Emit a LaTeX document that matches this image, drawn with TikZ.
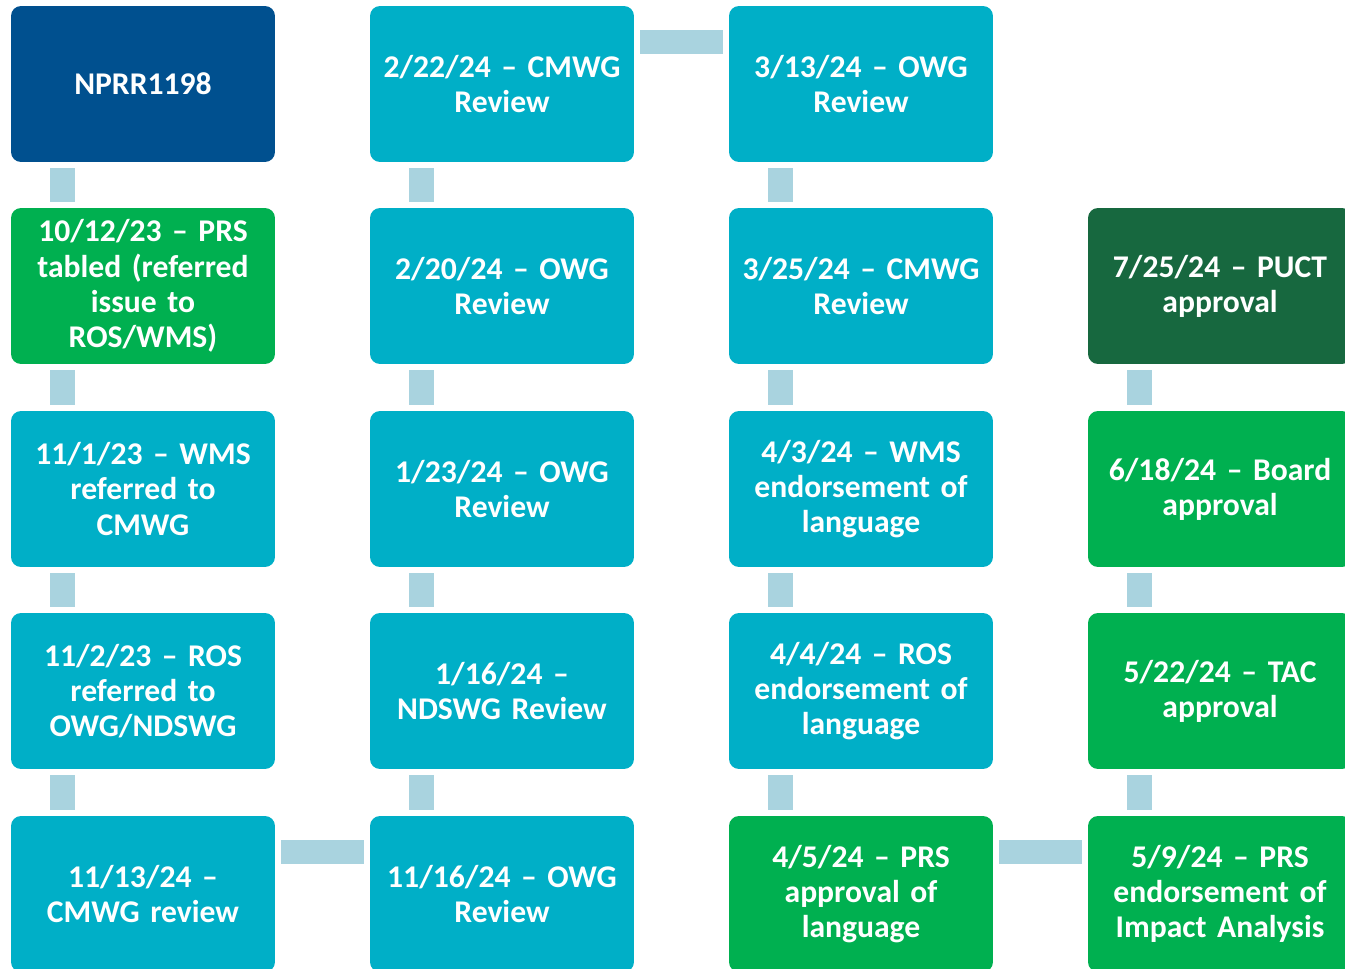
\documentclass[tikz,border=0pt]{standalone}
\usepackage{fontspec}
\setmainfont{Carlito}
\usepackage{tikz}
\usetikzlibrary{calc}
\definecolor{nprrBlue}{HTML}{00508F}
\definecolor{wgTeal}{HTML}{00AFC7}
\definecolor{okGreen}{HTML}{00B050}
\definecolor{puctGreen}{HTML}{17683F}
\definecolor{linkBlue}{HTML}{A9D3DF}
\tikzset{timelineFig/.style={x=0.02cm,y=-0.02cm,
                    font=\fontsize{18}{20}\selectfont\bfseries},
         tlBox/.style={rectangle,rounded corners=0.2cm,minimum width=5.28cm,
                    minimum height=3.12cm,text width=5.2cm,align=center,
                    inner sep=0pt,text=white},
         tlLink/.style={draw=linkBlue,line width=0.5cm,
                    shorten <=0.12cm,shorten >=0.12cm},
         tlLinkH/.style={tlLink,line width=0.48cm}}

\begin{document}
\begin{tikzpicture}[timelineFig]
    \useasboundingbox (0,0) rectangle (1345,969);
    \clip (0,0) rectangle (1345,969);
    %COLUMN 1
    \node [tlBox, fill=nprrBlue] (c1r1) at (143,84)  {NPRR1198};
    \node [tlBox, fill=okGreen]  (c1r2) at (143,286) {10/12/23 -- PRS\\tabled (referred\\issue to\\ROS/WMS)};
    \node [tlBox, fill=wgTeal]   (c1r3) at (143,489) {11/1/23 -- WMS\\referred to\\CMWG};
    \node [tlBox, fill=wgTeal]   (c1r4) at (143,691) {11/2/23 -- ROS\\referred to\\OWG/NDSWG};
    \node [tlBox, fill=wgTeal]   (c1r5) at (143,894) {11/13/24 --\\CMWG review};
    %COLUMN 2
    \node [tlBox, fill=wgTeal]   (c2r5) at (502,894) {11/16/24 -- OWG\\Review};
    \node [tlBox, fill=wgTeal]   (c2r4) at (502,691) {1/16/24 --\\NDSWG Review};
    \node [tlBox, fill=wgTeal]   (c2r3) at (502,489) {1/23/24 -- OWG\\Review};
    \node [tlBox, fill=wgTeal]   (c2r2) at (502,286) {2/20/24 -- OWG\\Review};
    \node [tlBox, fill=wgTeal]   (c2r1) at (502,84)  {2/22/24 -- CMWG\\Review};
    %COLUMN 3
    \node [tlBox, fill=wgTeal]   (c3r1) at (861,84)  {3/13/24 -- OWG\\Review};
    \node [tlBox, fill=wgTeal]   (c3r2) at (861,286) {3/25/24 -- CMWG\\Review};
    \node [tlBox, fill=wgTeal]   (c3r3) at (861,489) {4/3/24 -- WMS\\endorsement of\\language};
    \node [tlBox, fill=wgTeal]   (c3r4) at (861,691) {4/4/24 -- ROS\\endorsement of\\language};
    \node [tlBox, fill=okGreen]  (c3r5) at (861,894) {4/5/24 -- PRS\\approval of\\language};
    %COLUMN 4
    \node [tlBox, fill=okGreen]  (c4r5) at (1220,894) {5/9/24 -- PRS\\endorsement of\\Impact Analysis};
    \node [tlBox, fill=okGreen]  (c4r4) at (1220,691) {5/22/24 -- TAC\\approval};
    \node [tlBox, fill=okGreen]  (c4r3) at (1220,489) {6/18/24 -- Board\\approval};
    \node [tlBox, fill=puctGreen] (c4r2) at (1220,286) {7/25/24 -- PUCT\\approval};

    %LINKS
    \draw [tlLink] ([xshift=1.03cm]c1r1.south west) -- ([xshift=1.03cm]c1r2.north west);
    \draw [tlLink] ([xshift=1.03cm]c1r2.south west) -- ([xshift=1.03cm]c1r3.north west);
    \draw [tlLink] ([xshift=1.03cm]c1r3.south west) -- ([xshift=1.03cm]c1r4.north west);
    \draw [tlLink] ([xshift=1.03cm]c1r4.south west) -- ([xshift=1.03cm]c1r5.north west);
    \draw [tlLinkH] ([yshift=-0.72cm]c1r5.north east) -- ([yshift=-0.72cm]c2r5.north west);

    \draw [tlLink] ([xshift=1.03cm]c2r5.north west) -- ([xshift=1.03cm]c2r4.south west);
    \draw [tlLink] ([xshift=1.03cm]c2r4.north west) -- ([xshift=1.03cm]c2r3.south west);
    \draw [tlLink] ([xshift=1.03cm]c2r3.north west) -- ([xshift=1.03cm]c2r2.south west);
    \draw [tlLink] ([xshift=1.03cm]c2r2.north west) -- ([xshift=1.03cm]c2r1.south west);
    \draw [tlLinkH] ([yshift=-0.72cm]c2r1.north east) -- ([yshift=-0.72cm]c3r1.north west);

    \draw [tlLink] ([xshift=1.03cm]c3r1.south west) -- ([xshift=1.03cm]c3r2.north west);
    \draw [tlLink] ([xshift=1.03cm]c3r2.south west) -- ([xshift=1.03cm]c3r3.north west);
    \draw [tlLink] ([xshift=1.03cm]c3r3.south west) -- ([xshift=1.03cm]c3r4.north west);
    \draw [tlLink] ([xshift=1.03cm]c3r4.south west) -- ([xshift=1.03cm]c3r5.north west);
    \draw [tlLinkH] ([yshift=-0.72cm]c3r5.north east) -- ([yshift=-0.72cm]c4r5.north west);

    \draw [tlLink] ([xshift=1.03cm]c4r5.north west) -- ([xshift=1.03cm]c4r4.south west);
    \draw [tlLink] ([xshift=1.03cm]c4r4.north west) -- ([xshift=1.03cm]c4r3.south west);
    \draw [tlLink] ([xshift=1.03cm]c4r3.north west) -- ([xshift=1.03cm]c4r2.south west);
\end{tikzpicture}
\end{document}
